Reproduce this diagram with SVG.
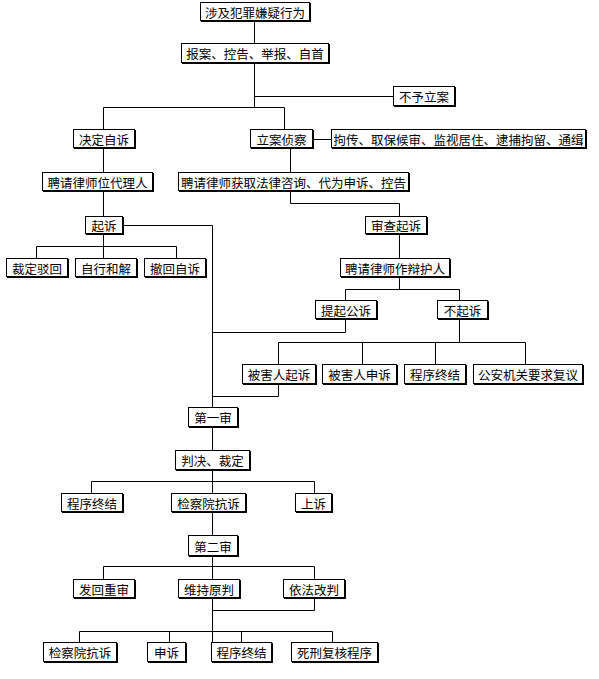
<svg xmlns="http://www.w3.org/2000/svg" width="599" height="679" viewBox="0 0 599 679">
<style>
.sh{fill:#000;stroke:none}
.box{fill:#fff;stroke:#000;stroke-width:1}
text{font-family:"Noto Sans CJK SC","Liberation Sans",sans-serif;font-size:12.5px;fill:#000;text-anchor:middle;dominant-baseline:central}
#edges path{fill:none;stroke:#000;stroke-width:1}
</style>
<rect width="599" height="679" fill="#fff"/>
<g id="edges">
<path d="M254.5 21V43M254.5 63V107.5M254.5 96.5H393M103.5 107.5H284.5M103.5 107.5V129M284.5 107.5V129"/>
<path d="M313 139.5H331M103.5 148V172M103.5 191V216M103.5 234V258M290.5 148V172"/>
<path d="M290.5 191V203.5H399.5V216"/>
<path d="M123 225.5H212.5V407"/>
<path d="M36.5 258V246.5H176.5V258"/>
<path d="M399.5 234V258M399.5 277V289.5M345.5 300V289.5H459.5V300"/>
<path d="M345.5 319V332.5H212.5"/>
<path d="M459.5 319V342.5M278.5 364V342.5H525.5V364M362.5 342.5V364M435.5 342.5V364"/>
<path d="M278.5 384V396.5H212.5"/>
<path d="M212.5 427V450M212.5 470V493M91.5 493V481.5H314.5V493"/>
<path d="M212.5 512V535M212.5 556V579M103.5 579V566.5H314.5V579"/>
<path d="M212.5 598V642M314.5 598V610.5H212.5M79.5 642V631.5H332.5V642M169.5 631.5V642M241.5 631.5V642"/>
</g>
<g id="n1"><rect class="sh" x="201" y="3" width="110" height="19"/><rect class="box" x="200.5" y="2.5" width="109" height="18"/><text x="255" y="12">涉及犯罪嫌疑行为</text></g>
<g id="n2"><rect class="sh" x="182" y="44" width="148" height="20"/><rect class="box" x="181.5" y="43.5" width="147" height="19"/><text x="255" y="53.5">报案、控告、举报、自首</text></g>
<g id="n3"><rect class="sh" x="394" y="87" width="62" height="20"/><rect class="box" x="393.5" y="86.5" width="61" height="19"/><text x="424" y="96.5">不予立案</text></g>
<g id="n4"><rect class="sh" x="74" y="130" width="62" height="19"/><rect class="box" x="73.5" y="129.5" width="61" height="18"/><text x="104" y="139">决定自诉</text></g>
<g id="n5"><rect class="sh" x="251" y="130" width="63" height="19"/><rect class="box" x="250.5" y="129.5" width="62" height="18"/><text x="281.5" y="139">立案侦察</text></g>
<g id="n6"><rect class="sh" x="332" y="130" width="255" height="19"/><rect class="box" x="331.5" y="129.5" width="254" height="18"/><text x="458.5" y="139">拘传、取保候审、监视居住、逮捕拘留、通缉</text></g>
<g id="n7"><rect class="sh" x="43" y="173" width="111" height="19"/><rect class="box" x="42.5" y="172.5" width="110" height="18"/><text x="97.5" y="182">聘请律师位代理人</text></g>
<g id="n8"><rect class="sh" x="179" y="173" width="231" height="19"/><rect class="box" x="178.5" y="172.5" width="230" height="18"/><text x="293.5" y="182">聘请律师获取法律咨询、代为申诉、控告</text></g>
<g id="n9"><rect class="sh" x="86" y="217" width="38" height="18"/><rect class="box" x="85.5" y="216.5" width="37" height="17"/><text x="104" y="225.5">起诉</text></g>
<g id="n10"><rect class="sh" x="366" y="217" width="62" height="18"/><rect class="box" x="365.5" y="216.5" width="61" height="17"/><text x="396" y="225.5">审查起诉</text></g>
<g id="n11"><rect class="sh" x="7" y="259" width="62" height="19"/><rect class="box" x="6.5" y="258.5" width="61" height="18"/><text x="37" y="268">裁定驳回</text></g>
<g id="n12"><rect class="sh" x="76" y="259" width="62" height="19"/><rect class="box" x="75.5" y="258.5" width="61" height="18"/><text x="106" y="268">自行和解</text></g>
<g id="n13"><rect class="sh" x="145" y="259" width="62" height="19"/><rect class="box" x="144.5" y="258.5" width="61" height="18"/><text x="175" y="268">撤回自诉</text></g>
<g id="n14"><rect class="sh" x="341" y="259" width="110" height="19"/><rect class="box" x="340.5" y="258.5" width="109" height="18"/><text x="395" y="268">聘请律师作辩护人</text></g>
<g id="n15"><rect class="sh" x="316" y="301" width="62" height="19"/><rect class="box" x="315.5" y="300.5" width="61" height="18"/><text x="346" y="310">提起公诉</text></g>
<g id="n16"><rect class="sh" x="438" y="301" width="51" height="19"/><rect class="box" x="437.5" y="300.5" width="50" height="18"/><text x="462.5" y="310">不起诉</text></g>
<g id="n17"><rect class="sh" x="243" y="365" width="74" height="20"/><rect class="box" x="242.5" y="364.5" width="73" height="19"/><text x="279" y="374.5">被害人起诉</text></g>
<g id="n18"><rect class="sh" x="323" y="365" width="75" height="20"/><rect class="box" x="322.5" y="364.5" width="74" height="19"/><text x="359.5" y="374.5">被害人申诉</text></g>
<g id="n19"><rect class="sh" x="405" y="365" width="62" height="20"/><rect class="box" x="404.5" y="364.5" width="61" height="19"/><text x="435" y="374.5">程序终结</text></g>
<g id="n20"><rect class="sh" x="474" y="365" width="110" height="20"/><rect class="box" x="473.5" y="364.5" width="109" height="19"/><text x="528" y="374.5">公安机关要求复议</text></g>
<g id="n21"><rect class="sh" x="189" y="408" width="50" height="20"/><rect class="box" x="188.5" y="407.5" width="49" height="19"/><text x="213" y="417.5">第一审</text></g>
<g id="n22"><rect class="sh" x="176" y="451" width="75" height="20"/><rect class="box" x="175.5" y="450.5" width="74" height="19"/><text x="212.5" y="460.5">判决、裁定</text></g>
<g id="n23"><rect class="sh" x="62" y="494" width="62" height="19"/><rect class="box" x="61.5" y="493.5" width="61" height="18"/><text x="92" y="503">程序终结</text></g>
<g id="n24"><rect class="sh" x="172" y="494" width="75" height="19"/><rect class="box" x="171.5" y="493.5" width="74" height="18"/><text x="208.5" y="503">检察院抗诉</text></g>
<g id="n25"><rect class="sh" x="296" y="494" width="37" height="19"/><rect class="box" x="295.5" y="493.5" width="36" height="18"/><text x="313.5" y="503">上诉</text></g>
<g id="n26"><rect class="sh" x="189" y="536" width="50" height="21"/><rect class="box" x="188.5" y="535.5" width="49" height="20"/><text x="213" y="546">第二审</text></g>
<g id="n27"><rect class="sh" x="74" y="580" width="62" height="19"/><rect class="box" x="73.5" y="579.5" width="61" height="18"/><text x="104" y="589">发回重审</text></g>
<g id="n28"><rect class="sh" x="179" y="580" width="62" height="19"/><rect class="box" x="178.5" y="579.5" width="61" height="18"/><text x="209" y="589">维持原判</text></g>
<g id="n29"><rect class="sh" x="284" y="580" width="62" height="19"/><rect class="box" x="283.5" y="579.5" width="61" height="18"/><text x="314" y="589">依法改判</text></g>
<g id="n30"><rect class="sh" x="44" y="643" width="74" height="20"/><rect class="box" x="43.5" y="642.5" width="73" height="19"/><text x="80" y="652.5">检察院抗诉</text></g>
<g id="n31"><rect class="sh" x="148" y="643" width="39" height="20"/><rect class="box" x="147.5" y="642.5" width="38" height="19"/><text x="166.5" y="652.5">申诉</text></g>
<g id="n32"><rect class="sh" x="212" y="643" width="61" height="20"/><rect class="box" x="211.5" y="642.5" width="60" height="19"/><text x="241.5" y="652.5">程序终结</text></g>
<g id="n33"><rect class="sh" x="292" y="643" width="87" height="20"/><rect class="box" x="291.5" y="642.5" width="86" height="19"/><text x="334.5" y="652.5">死刑复核程序</text></g>
</svg>
